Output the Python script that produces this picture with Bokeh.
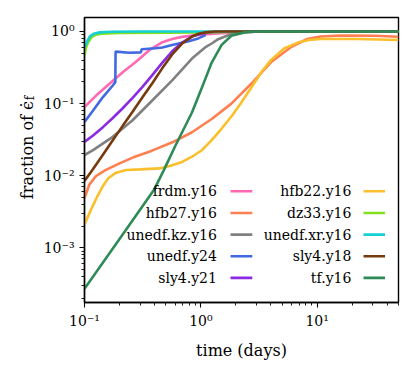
import math
from bokeh.plotting import figure
from bokeh.layouts import row
from bokeh.models import FixedTicker, CustomJSTickFormatter, Label
from bokeh.embed import file_html
from bokeh.resources import INLINE

# ---------------- data ----------------
names = ["frdm.y16", "hfb27.y16", "unedf.kz.y16", "unedf.y24", "sly4.y21",
         "hfb22.y16", "dz33.y16", "unedf.xr.y16", "sly4.y18", "tf.y16"]
colors = ["#ff69b4", "#ff7f50", "#808080", "#4169e1", "#8a2be2",
          "#f9bf2c", "#84e01e", "#12d0d4", "#763a0d", "#2e8b57"]

t_frdm = [0.1, 0.1185, 0.1265, 0.164, 0.213, 0.277, 0.36, 0.467, 0.567, 0.69, 0.85, 1.05, 1.4, 2.0, 3.0, 5.0, 50]
f_frdm = [0.089, 0.117, 0.13, 0.188, 0.272, 0.38, 0.55, 0.71, 0.785, 0.84, 0.88, 0.91, 0.94, 0.97, 0.99, 1.0, 1.0]

t_hfb27 = [0.1, 0.11, 0.125, 0.15, 0.2, 0.26, 0.38, 0.57, 0.84, 1.24, 1.83, 2.71, 4.0, 5.9, 8.2, 10.7, 16, 31, 50]
f_hfb27 = [0.0049, 0.0075, 0.0098, 0.0118, 0.0148, 0.0178, 0.0222, 0.029, 0.040, 0.061, 0.0997, 0.188, 0.373, 0.60, 0.785, 0.85, 0.88, 0.87, 0.845]

t_kz = [0.1, 0.1185, 0.175, 0.259, 0.384, 0.567, 0.839, 1.088, 1.24, 1.41, 1.83, 2.38, 3.0, 50]
f_kz = [0.0193, 0.0226, 0.0345, 0.0586, 0.111, 0.209, 0.42, 0.6, 0.68, 0.78, 0.92, 0.98, 1.0, 1.0]

t_y24 = [0.1, 0.1185, 0.144, 0.175, 0.184, 0.185, 0.243, 0.305, 0.31, 0.409, 0.467, 0.567, 0.785, 0.95, 1.1]
f_y24 = [0.0556, 0.08, 0.123, 0.178, 0.198, 0.525, 0.505, 0.512, 0.565, 0.585, 0.60, 0.65, 0.73, 0.80, 0.89]

t_y21 = [0.1, 0.1185, 0.144, 0.175, 0.213, 0.259, 0.315, 0.384, 0.467, 0.567, 0.69, 0.85, 1.0, 1.3, 1.8, 3, 50]
f_y21 = [0.0294, 0.036, 0.047, 0.063, 0.086, 0.12, 0.17, 0.25, 0.37, 0.53, 0.70, 0.86, 0.93, 0.98, 1.0, 1.0, 1.0]

t_hfb22 = [0.1, 0.107, 0.115, 0.126, 0.144, 0.16, 0.187, 0.228, 0.3, 0.438, 0.55, 0.69, 0.84, 1.02, 1.24, 1.51, 1.83, 2.2, 2.71, 3.3, 4.0, 5.2, 6.8, 8.5, 10.7, 22, 50]
f_hfb22 = [0.0021, 0.0027, 0.0035, 0.0048, 0.0072, 0.0092, 0.011, 0.012, 0.0122, 0.0126, 0.0137, 0.0155, 0.0183, 0.0225, 0.031, 0.045, 0.066, 0.1, 0.165, 0.27, 0.40, 0.58, 0.70, 0.76, 0.785, 0.785, 0.76]

t_dz33 = [0.1, 0.103, 0.108, 0.115, 0.125, 0.14, 0.2, 0.5, 1.0, 2.0, 5.0, 50]
f_dz33 = [0.46, 0.6, 0.72, 0.83, 0.9, 0.93, 0.95, 0.96, 0.97, 0.99, 1.0, 1.0]

t_xr = [0.1, 0.105, 0.111, 0.12, 0.135, 0.17, 0.3, 50]
f_xr = [0.6, 0.72, 0.85, 0.93, 0.97, 0.99, 1.0, 1.0]

t_y18 = [0.1, 0.1185, 0.144, 0.175, 0.213, 0.259, 0.315, 0.384, 0.467, 0.567, 0.69, 0.84, 0.955, 1.1, 1.32, 2, 50]
f_y18 = [0.0084, 0.0124, 0.0195, 0.031, 0.049, 0.077, 0.122, 0.193, 0.31, 0.48, 0.68, 0.85, 0.93, 0.97, 1.0, 1.0, 1.0]

t_tf = [0.1, 0.2, 0.396, 0.482, 0.604, 0.839, 1.02, 1.24, 1.51, 1.83, 2.38, 3.1, 50]
f_tf = [0.00027, 0.00132, 0.00635, 0.012, 0.026, 0.075, 0.165, 0.37, 0.65, 0.87, 0.97, 1.0, 1.0]

series_t = [t_frdm, t_hfb27, t_kz, t_y24, t_y21, t_hfb22, t_dz33, t_xr, t_y18, t_tf]
series_f = [f_frdm, f_hfb27, f_kz, f_y24, f_y21, f_hfb22, f_dz33, f_xr, f_y18, f_tf]

x_major = [0.1, 1, 10]
y_major = [1e-3, 1e-2, 1e-1, 1]

# ---------------- layout ----------------
XMIN, XMAX = 0.1, 50
YMIN, YMAX = 1.74e-4, 1.56
LW = 40                      # width of the strip holding the y label
H = 362
BL, BR, BT = 41, 12, 17
FW, FH = 317, 287
W = BL + FW + BR
FONT = "DejaVu Serif"

p = figure(x_axis_type="log", y_axis_type="log",
           x_range=(XMIN, XMAX), y_range=(YMIN, YMAX),
           width=W, height=H,
           min_border_left=BL, min_border_right=BR, min_border_top=BT,
           min_border_bottom=H - BT - FH,
           output_backend="svg", toolbar_location=None)
p.background_fill_color = "white"
p.border_fill_color = "white"
p.outline_line_color = "black"
p.outline_line_width = 1.4
p.grid.visible = False

def fx(px):  # frame pixel (from left) -> data x
    return 10 ** (math.log10(XMIN) + px / FW * math.log10(XMAX / XMIN))

def fy(py):  # frame pixel (from top) -> data y
    return 10 ** (math.log10(YMAX) - py / FH * math.log10(YMAX / YMIN))

for t, f, c in zip(series_t, series_f, colors):
    p.line(t, f, line_color=c, line_width=2.6)

minor_x = [m * d for d in (0.1, 1, 10) for m in range(2, 10) if m * d <= XMAX]
minor_y = [m * d for d in (1e-4, 1e-3, 1e-2, 1e-1) for m in range(2, 10) if m * d >= YMIN]

fmt = CustomJSTickFormatter(code="""
const sup = {"-":"\u207b","0":"\u2070","1":"\u00b9","2":"\u00b2","3":"\u00b3","4":"\u2074",
             "5":"\u2075","6":"\u2076","7":"\u2077","8":"\u2078","9":"\u2079"};
const e = String(Math.round(Math.log10(tick)));
let s = "";
for (const ch of e) { s += sup[ch]; }
return "10" + s;
""")

for ax, major, minor in ((p.xaxis[0], x_major, minor_x), (p.yaxis[0], y_major, minor_y)):
    ax.ticker = FixedTicker(ticks=major, minor_ticks=minor)
    ax.formatter = fmt
    ax.axis_line_color = "black"
    ax.axis_line_width = 1.4
    ax.major_tick_in = 0
    ax.major_tick_out = 5
    ax.minor_tick_in = 0
    ax.minor_tick_out = 3
    ax.major_tick_line_color = "black"
    ax.minor_tick_line_color = "black"
    ax.major_tick_line_width = 1.1
    ax.minor_tick_line_width = 0.9
    ax.major_label_text_font = FONT
    ax.major_label_text_font_size = "14px"
    ax.major_label_text_color = "black"
    ax.major_label_standoff = 5

p.xaxis.axis_label = "time (days)"
p.xaxis.axis_label_text_font = FONT
p.xaxis.axis_label_text_font_size = "16px"
p.xaxis.axis_label_text_font_style = "normal"
p.xaxis.axis_label_text_color = "black"
p.xaxis.axis_label_standoff = 9

# legend: label then line, two columns, no frame
rows = [175, 196.8, 218.6, 240.4, 262.2]
cols = [(133.7, 147.4, 169.4), (269.4, 281.7, 303.4)]
for i, (name, c) in enumerate(zip(names, colors)):
    col, r = divmod(i, 5)
    xr, x0, x1 = cols[col]
    yy = fy(rows[r])
    p.add_layout(Label(x=fx(xr), y=yy, text=name, text_align="right", text_baseline="middle",
                       text_font=FONT, text_font_size="14px", text_color="black"))
    p.line([fx(x0), fx(x1)], [yy, yy], line_color=c, line_width=2.6)

# strip on the left carrying the y-axis label "fraction of ϵ̇_f"
lab = figure(width=LW, height=H, x_range=(0, LW), y_range=(0, H),
             x_axis_location=None, y_axis_location=None,
             min_border_left=0, min_border_right=0, min_border_top=0, min_border_bottom=0,
             output_backend="svg", toolbar_location=None)
lab.outline_line_color = None
lab.grid.visible = False
lab.background_fill_color = "white"
lab.border_fill_color = "white"
lab.add_layout(Label(x=26.5, y=H - 106, text="fraction of \u03f5\u0307", angle=math.pi / 2,
                     text_align="right", text_baseline="alphabetic",
                     text_font=FONT, text_font_size="16px", text_color="black"))
lab.add_layout(Label(x=29.5, y=H - 105, text="f", angle=math.pi / 2,
                     text_align="left", text_baseline="alphabetic",
                     text_font=FONT, text_font_size="12px", text_color="black"))

layout = row(lab, p)
open("out.html", "w").write(file_html(layout, INLINE))
